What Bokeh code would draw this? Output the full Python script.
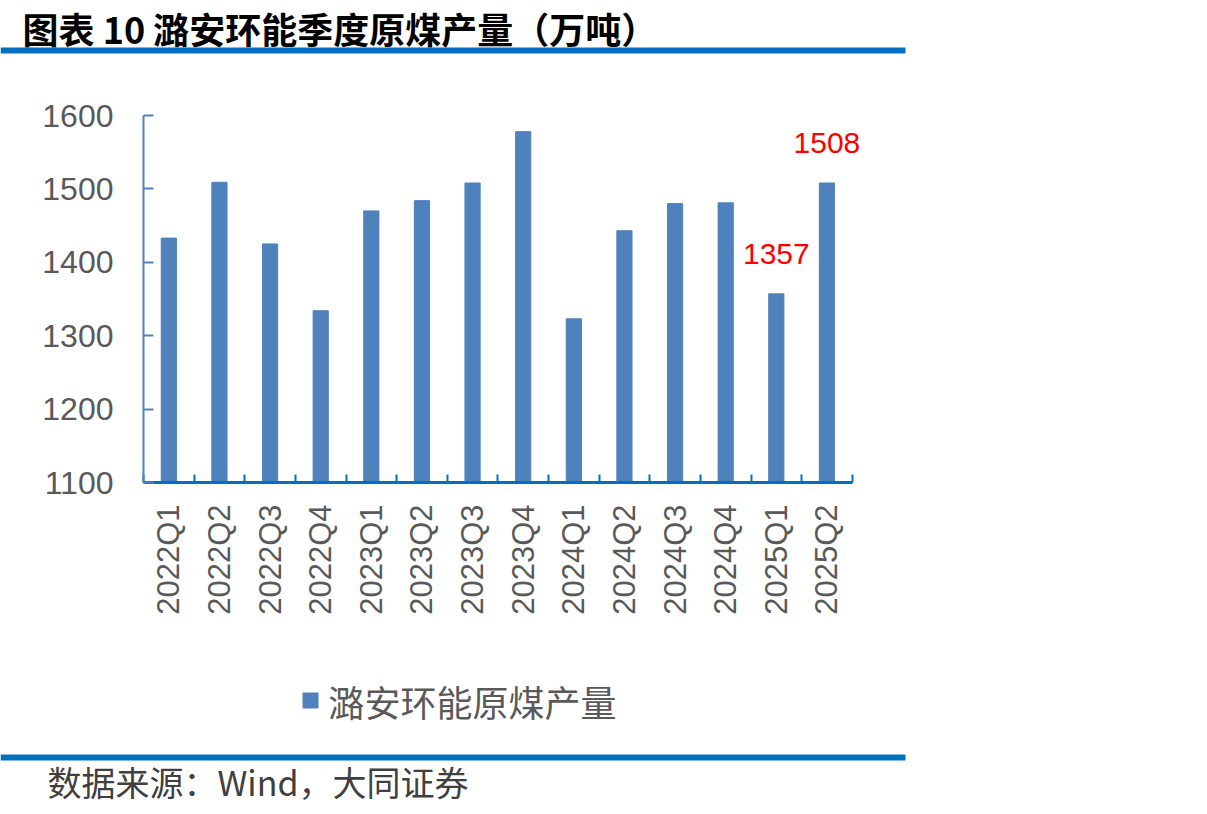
import numpy as np
from bokeh.plotting import figure
from bokeh.layouts import column
from bokeh.models import Range1d, FixedTicker, ColumnDataSource
from bokeh.core.properties import value
from bokeh.embed import file_html
from bokeh.resources import INLINE

categories = ["2022Q1", "2022Q2", "2022Q3", "2022Q4", "2023Q1", "2023Q2", "2023Q3",
              "2023Q4", "2024Q1", "2024Q2", "2024Q3", "2024Q4", "2025Q1", "2025Q2"]
output = [1433, 1509, 1425, 1334, 1470, 1484, 1508, 1578, 1323, 1443, 1480, 1481, 1357, 1508]
y_ticks = [1100, 1200, 1300, 1400, 1500, 1600]
labelled = [12, 13]  # indices with value labels

title_text = "图表 10  潞安环能季度原煤产量（万吨）"
series_name = "潞安环能原煤产量"
source_text = "数据来源：Wind，大同证券"

BAR = "#4F81BD"
DARK_BLUE = "#0070C0"
GREY = "#595959"

n = len(categories)
xs = np.arange(n) + 0.5

W = 1207
TOP_H, MAIN_H, BOT_H = 60, 580, 174
FL, FR, FT, FB = 143, 852, 115, 482   # plot area in page pixels
EXTRA = 0.4                            # room on the right for the last value label


def blank(h):
    f = figure(width=W, height=h, output_backend="svg", toolbar_location=None,
               x_range=Range1d(0, W), y_range=Range1d(h, 0),
               x_axis_location=None, y_axis_location=None,
               min_border=0, min_border_left=0, min_border_right=0,
               min_border_top=0, min_border_bottom=0, frame_align=False)
    f.outline_line_color = None
    f.grid.grid_line_color = None
    f.background_fill_color = "white"
    f.border_fill_color = "white"
    return f


# ---------- header ----------
top = blank(TOP_H)
top.text(x=[22], y=[27], text=[title_text], text_font=value("Noto Sans CJK SC"),
         text_font_style="bold", text_font_size="36px", text_color="black",
         text_baseline="middle")
top.quad(left=[0], right=[905], top=[47], bottom=[53], fill_color=DARK_BLUE,
         line_color=None)

# ---------- main chart ----------
cat_w = (FR - FL) / n
p = figure(width=W, height=MAIN_H, output_backend="svg", toolbar_location=None,
           x_range=Range1d(0, n + EXTRA), y_range=Range1d(y_ticks[0], y_ticks[-1]),
           min_border_left=FL, min_border_right=W - FR - int(EXTRA * cat_w),
           min_border_top=FT - TOP_H, min_border_bottom=TOP_H + MAIN_H - FB,
           frame_align=False)
p.outline_line_color = None
p.xgrid.grid_line_color = None
p.ygrid.grid_line_color = None
p.background_fill_color = "white"
p.border_fill_color = "white"

src = ColumnDataSource(dict(x=xs, top=output, cat=categories))
p.vbar(x="x", top="top", bottom=y_ticks[0], width=0.3, source=src,
       fill_color=BAR, line_color=BAR)

lab = ColumnDataSource(dict(x=[xs[i] for i in labelled],
                            y=[output[i] for i in labelled],
                            t=[str(output[i]) for i in labelled]))
p.text(x="x", y="y", text="t", source=lab, text_align="center",
       text_baseline="alphabetic", y_offset=-40, text_color="#FF0000",
       text_font=value("Liberation Sans"), text_font_size="30px")

xa = p.xaxis[0]
xa.bounds = (0, n)
xa.ticker = FixedTicker(ticks=list(xs), minor_ticks=list(range(n + 1)))
xa.major_label_overrides = {float(x): c for x, c in zip(xs, categories)}
xa.major_label_orientation = np.pi / 2
xa.major_tick_in = 0
xa.major_tick_out = 0
xa.minor_tick_in = 8
xa.minor_tick_out = 0
xa.minor_tick_line_color = DARK_BLUE
xa.minor_tick_line_width = 2
xa.axis_line_color = DARK_BLUE
xa.axis_line_width = 3
xa.major_label_standoff = 22
xa.major_label_text_font = "Liberation Sans"
xa.major_label_text_font_size = "31px"
xa.major_label_text_color = GREY

ya = p.yaxis[0]
ya.ticker = FixedTicker(ticks=y_ticks)
ya.major_tick_in = 10
ya.major_tick_out = 0
ya.minor_tick_in = 0
ya.minor_tick_out = 0
ya.major_tick_line_color = BAR
ya.major_tick_line_width = 2
ya.axis_line_color = BAR
ya.axis_line_width = 2
ya.major_label_standoff = 30
ya.major_label_text_font = "Liberation Sans"
ya.major_label_text_font_size = "32px"
ya.major_label_text_color = GREY

# ---------- footer ----------
y0 = TOP_H + MAIN_H
bot = blank(BOT_H)
bot.quad(left=[302], right=[318], top=[692 - y0], bottom=[708 - y0],
         fill_color=BAR, line_color=None)
bot.text(x=[328], y=[700 - y0], text=[series_name], text_font=value("Noto Sans CJK SC"),
         text_font_size="36px", text_color=GREY, text_baseline="middle")
bot.quad(left=[0], right=[905], top=[754 - y0], bottom=[760 - y0],
         fill_color=DARK_BLUE, line_color=None)
bot.text(x=[47], y=[781 - y0], text=[source_text], text_font=value("Noto Sans CJK SC"),
         text_font_size="34px", text_color="#404040", text_baseline="middle")

layout = column(top, p, bot, spacing=0)
open("out.html", "w").write(file_html(layout, INLINE))
